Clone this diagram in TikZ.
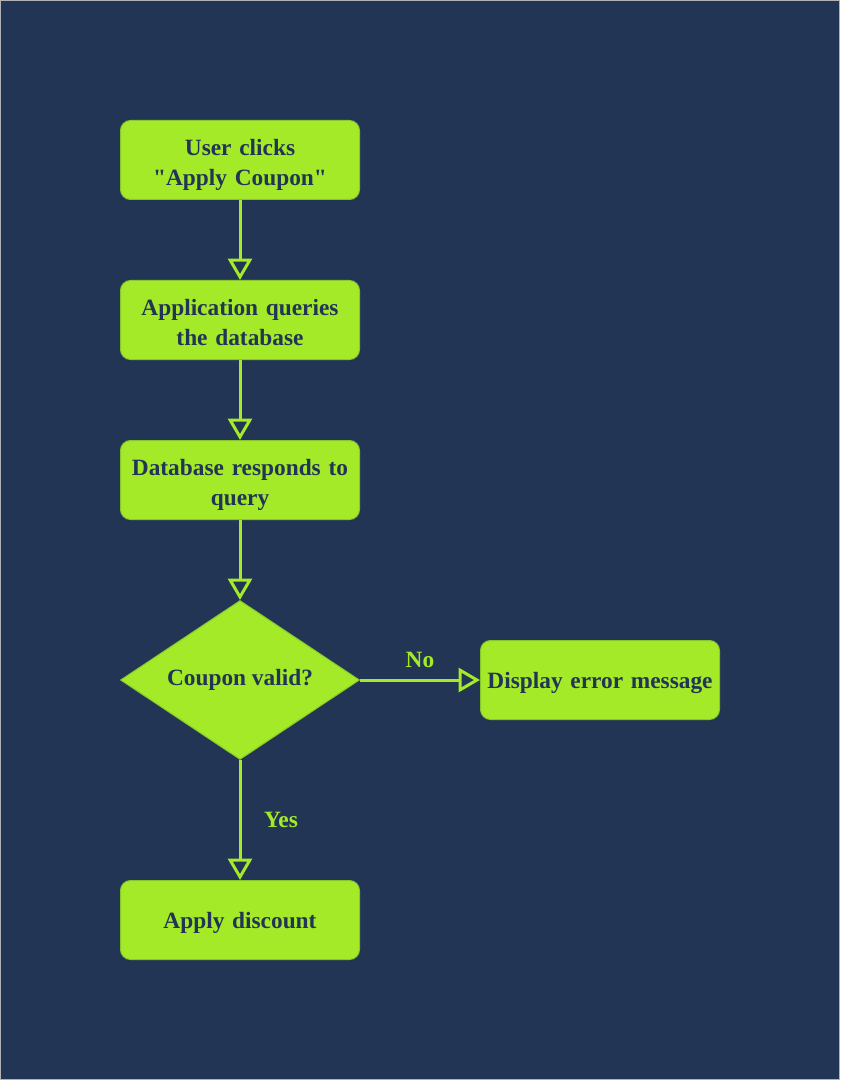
\documentclass[tikz,border=0pt]{standalone}
\usepackage{fontspec}
\setmainfont{Liberation Serif}[Ligatures=TeXOff]
\usetikzlibrary{arrows.meta,shapes.geometric}
\definecolor{navy}{HTML}{223554}
\definecolor{lime}{HTML}{A4EA28}
\definecolor{limeedge}{HTML}{86C82A}
\begin{document}
\begin{tikzpicture}[x=0.75pt, y=-0.75pt, font=\fontsize{17.5}{22.5}\selectfont\bfseries,
    stepbox/.style={draw=limeedge, fill=lime, text=navy, rounded corners=7.5pt, line width=0.75pt,
      minimum width=179.25pt, minimum height=59.25pt, text width=174pt, align=center, inner sep=0pt,
      text depth=0pt},
    twoline/.style={stepbox, text depth=19.5pt},
    choice/.style={diamond, draw=limeedge, fill=lime, text=navy, line width=0.75pt, aspect=1.5,
      minimum width=179.25pt, minimum height=119.25pt, inner sep=0pt},
    flow/.style={draw=lime, line width=2.25pt, -{Triangle[open, length=16pt, width=18pt, line width=2.25pt]}},
    tag/.style={text=lime}]
    \fill[navy] (0, 0) rectangle (840, 1080);
    \draw[gray!60, line width=0.75pt] (0.5, 0.5) rectangle (839.5, 1079.5);
    \useasboundingbox (0, 0) rectangle (840, 1080);
    % steps
    \node[twoline] (click) at (240, 160) {User clicks\\"Apply Coupon"};
    \node[twoline] (query) at (240, 320) {Application queries\\the database};
    \node[twoline] (reply) at (240, 480) {Database responds to\\query};
    \node[choice] (valid) at (240, 680) {Coupon valid?};
    \node[stepbox] (error) at (600, 680) {Display error message};
    \node[stepbox] (apply) at (240, 920) {Apply discount};
    % connectors
    \draw[flow] (click) -- (query);
    \draw[flow] (query) -- (reply);
    \draw[flow] (reply) -- (valid);
    \draw[flow] (valid) -- (error);
    \draw[flow] (valid) -- (apply);
    % labels
    \node[tag] (no) at (420, 660) {No};
    \node[tag] (yes) at (281, 820) {Yes};
\end{tikzpicture}
\end{document}
